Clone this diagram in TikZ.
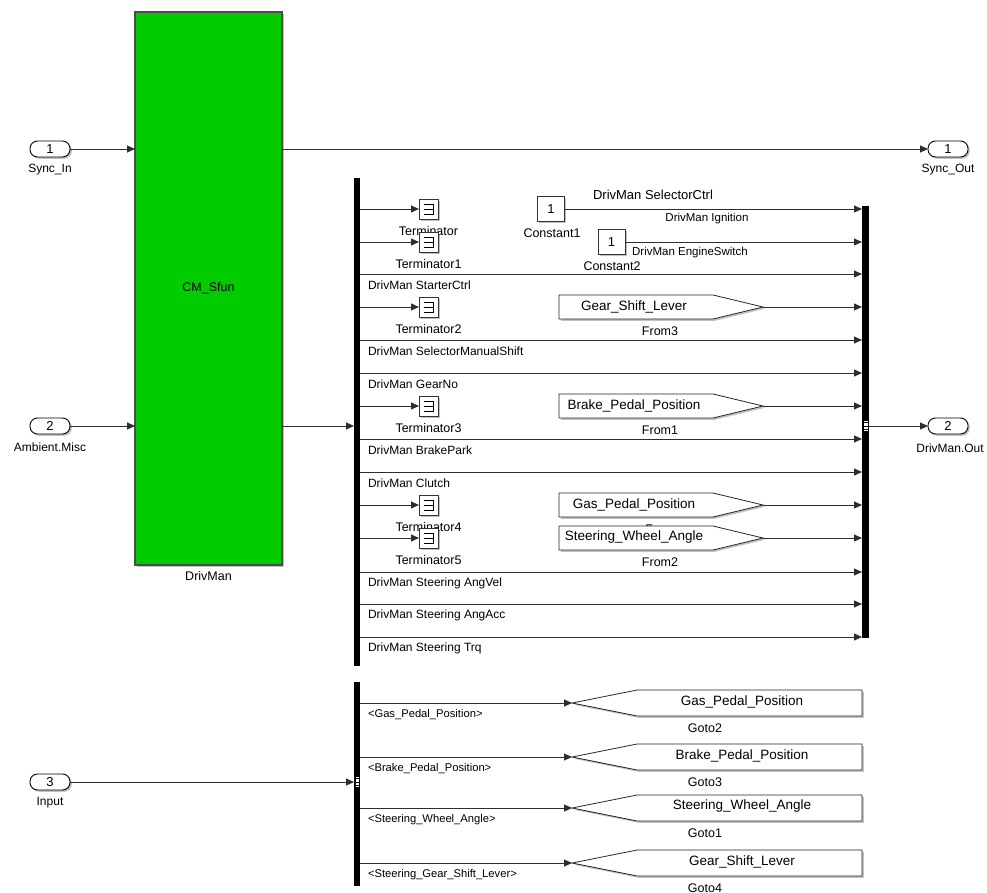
\documentclass[tikz,border=0pt]{standalone}
\usepackage{fontspec}
\setmainfont{Liberation Sans}
\usetikzlibrary{arrows.meta,shadows}
\definecolor{lc}{RGB}{45,45,45}
\definecolor{sfgreen}{RGB}{0,204,0}
\begin{document}
\begin{tikzpicture}[x=1pt,y=-1pt,
  every node/.style={inner sep=0pt,outer sep=0pt},
  ln/.style={draw=lc,line width=0.85pt},
  ar/.style={ln,-{Triangle[length=8pt,width=7pt]}},
  shd/.style={drop shadow={shadow xshift=1.8pt,shadow yshift=-1.8pt,opacity=0.35,fill=black!70}},
  port/.style={draw=black,line width=0.9pt,fill=white,rounded corners=7.5pt,minimum width=40pt,minimum height=16pt,shd,font=\fontsize{13}{14}\selectfont},
  plab/.style={font=\fontsize{12}{14}\selectfont},
  blab/.style={font=\fontsize{12.5}{14}\selectfont},
  slab/.style={font=\fontsize{12}{13}\selectfont,anchor=west},
  glab/.style={font=\fontsize{11.2}{13}\selectfont,anchor=west},
  term/.style={draw=black!80,line width=0.8pt,fill=white,minimum width=19pt,minimum height=20pt,shd},
  bar/.style={fill=black,minimum width=6pt},
  cst/.style={draw=black!80,line width=0.8pt,fill=white,minimum width=27pt,minimum height=25pt,shd,font=\fontsize{13}{14}\selectfont},
  tagbox/.style={draw=black!85,line width=0.8pt,fill=white,shd},
  tagtxt/.style={font=\fontsize{13.5}{15}\selectfont},
  busmark/.style={draw=black,fill=white,line width=0.4pt,minimum width=4.5pt,minimum height=11pt}
]
\useasboundingbox (0,0) rectangle (987,893);

% row coordinates
\foreach \i/\y in {a/209,b/242,c/274,d/307,e/340,f/373,g/406,h/439,k/472,m/505,n/538,p/572,q/604,r/637}
  {\coordinate (r\i) at (0,\y);}

% main S-function block
\node[draw=black!70,line width=1.5pt,fill=sfgreen,minimum width=147pt,minimum height=553pt,shd,blab] (cm) at (208.5,288.5) {CM\_Sfun};
\node[blab] (cmlab) at (208.5,576) {DrivMan};

% ports
\node[port] (p1) at (50,149) {1};
\node[plab] (p1l) at (50,170) {Sync\_In};
\node[port] (p2) at (50,426) {2};
\node[plab] (p2l) at (50,447) {Ambient.Misc};
\node[port] (p3) at (50,782) {3};
\node[plab] (p3l) at (50,803) {Input};
\node[port] (o1) at (948,149) {1};
\node[plab] (o1l) at (948,170) {Sync\_Out};
\node[port] (o2) at (948,426) {2};
\node[plab] (o2l) at (950,448) {DrivMan.Out};

\draw[ar] (p1.east) -- (cm.west |- p1.east);
\draw[ar] (p2.east) -- (cm.west |- p2.east);
\draw[ar] (cm.east |- o1.west) -- (o1.west);

% demux and mux bars
\node[bar,minimum height=488pt] (dm) at (357,422) {};
\node[bar,minimum height=432pt,minimum width=7pt] (mx) at (865.5,422) {};
\coordinate (rin) at (0,426);
\draw[ar] (cm.east |- rin) -- (dm.west |- rin);
\draw[ar] (mx.east |- o2.west) -- (o2.west);
\node[busmark] (mxm) at (865.5,426) {};
\draw[line width=0.5pt] (863.3,422.5) -- (867.7,422.5) (863.3,426) -- (867.7,426) (863.3,429.5) -- (867.7,429.5);

% direct signals
\foreach \i/\t in {c/DrivMan StarterCtrl,e/DrivMan SelectorManualShift,f/DrivMan GearNo,h/DrivMan BrakePark,k/DrivMan Clutch,p/DrivMan Steering AngVel,q/DrivMan Steering AngAcc,r/DrivMan Steering Trq}{
  \draw[ar] (dm.east |- r\i) -- (mx.west |- r\i);
  \node[slab] (l\i) at ([xshift=8pt,yshift=-11pt]dm.east |- r\i) {\t};
}

% terminators
\foreach \n/\i/\y/\t in {0/a/209/Terminator,1/b/242/Terminator1,2/d/307/Terminator2,3/g/406/Terminator3,4/m/505/Terminator4,5/n/538/Terminator5}{
  \node[term] (t\n) at (428.5,\y) {};
  \draw[line width=0.75pt] (423.5,\y-5) -- (433.5,\y-5) -- (433.5,\y+5) -- (423.5,\y+5) (423.5,\y) -- (433.5,\y);
  \draw[ar] (dm.east |- r\i) -- (t\n.west);
  \node[blab] (t\n l) at (428.5,\y+22) {\t};
}

% constants
\node[cst] (c1) at (551,209) {1};
\node[blab] (c1l) at (552,233) {Constant1};
\draw[ar] (c1.east) -- (mx.west |- c1.east);
\node[cst] (c2) at (611.5,242) {1};
\node[blab] (c2l) at (612,266) {Constant2};
\draw[ar] (c2.east) -- (mx.west |- c2.east);
\node[font=\fontsize{13}{14}\selectfont] (sl1) at (653,195) {DrivMan SelectorCtrl};
\node[font=\fontsize{11.5}{13}\selectfont] (sl2) at (707,219) {DrivMan Ignition};
\node[font=\fontsize{11.5}{13}\selectfont] (sl3) at (690,253) {DrivMan EngineSwitch};

% from blocks
\foreach \n/\y/\t/\l in {f3/307/Gear\_Shift\_Lever/From3,f1/406/Brake\_Pedal\_Position/From1,fg/505/Gas\_Pedal\_Position/From,f2/538/Steering\_Wheel\_Angle/From2}{
  \path[tagbox] (559,\y-12) -- (713,\y-12) -- (763,\y) -- (713,\y+12) -- (559,\y+12) -- cycle;
  \node[tagtxt] (\n) at (634,\y-0.5) {\t};
  \coordinate (\n tip) at (763,\y);
  \draw[ar] (\n tip) -- (mx.west |- \n tip);
  \node[blab] (\n lab) at (660,\y+24) {\l};
}

% bus selector
\node[bar,minimum height=204pt] (dm2) at (357,784) {};
\draw[ar] (p3.east) -- (dm2.west |- p3.east);
\node[busmark] (dm2m) at (357,782) {};
\draw[line width=0.5pt] (354.8,778.5) -- (359.2,778.5) (354.8,782) -- (359.2,782) (354.8,785.5) -- (359.2,785.5);

% gotos
\foreach \n/\y/\t/\l/\s in {g2/703/Gas\_Pedal\_Position/Goto2/{<Gas\_Pedal\_Position>},g3/757/Brake\_Pedal\_Position/Goto3/{<Brake\_Pedal\_Position>},g1/808/Steering\_Wheel\_Angle/Goto1/{<Steering\_Wheel\_Angle>},g4/863/Gear\_Shift\_Lever/Goto4/{<Steering\_Gear\_Shift\_Lever>}}{
  \path[tagbox] (572,\y) -- (637,\y-13) -- (862,\y-13) -- (862,\y+13) -- (637,\y+13) -- cycle;
  \coordinate (\n tip) at (572,\y);
  \node[tagtxt] (\n) at (742,\y-1.5) {\t};
  \node[blab] (\n lab) at (705,\y+25) {\l};
  \coordinate (\n row) at (0,\y);
  \draw[ar] (dm2.east |- \n row) -- (\n tip);
  \node[glab] (\n s) at ([xshift=8pt,yshift=-12pt]dm2.east |- \n row) {\s};
}
\end{tikzpicture}
\end{document}
